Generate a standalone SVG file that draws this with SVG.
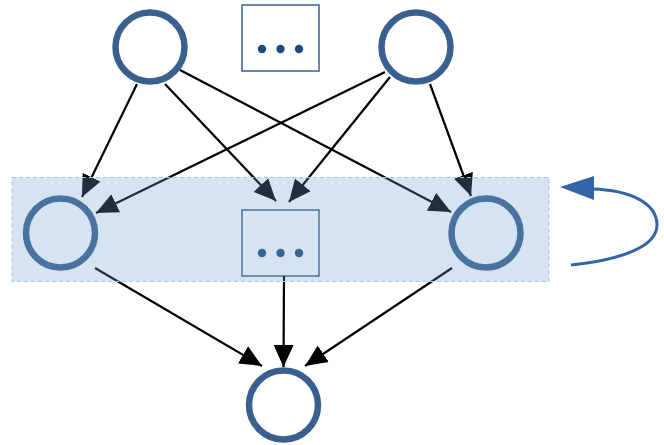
<svg xmlns="http://www.w3.org/2000/svg" width="664" height="445" viewBox="0 0 664 445">
<style>
.node{fill:#fff;stroke:#3a6090;stroke-width:6.5}
.box{fill:#fff;stroke:#3a6090;stroke-width:1.5}
.dot{fill:#1f4c80}
.edge{fill:none;stroke:#000;stroke-width:2.2}
.loop{fill:none;stroke:#3366a8;stroke-width:3}
</style>
<defs>
<marker id="ah" markerUnits="userSpaceOnUse" markerWidth="24" markerHeight="21" refX="22" refY="10" orient="auto" viewBox="0 0 24 20">
<path d="M0,0 L22,10 L0,20 Z" fill="#000"/>
</marker>
</defs>
<g id="top-left"><circle class="node" cx="150" cy="47" r="34.5"/></g>
<g id="top-dots"><rect class="box" x="242" y="5" width="77" height="66"/><circle class="dot" cx="262" cy="49" r="4.2"/><circle class="dot" cx="280.5" cy="49" r="4.2"/><circle class="dot" cx="299" cy="49" r="4.2"/></g>
<g id="top-right"><circle class="node" cx="416" cy="47" r="34.5"/></g>
<g id="mid-left"><circle class="node" cx="60.5" cy="233" r="34.5"/></g>
<g id="mid-dots"><rect class="box" x="242" y="210" width="77" height="66"/><circle class="dot" cx="262" cy="253" r="4.2"/><circle class="dot" cx="280.5" cy="253" r="4.2"/><circle class="dot" cx="299" cy="253" r="4.2"/></g>
<g id="mid-right"><circle class="node" cx="486" cy="233" r="34.5"/></g>
<g id="bottom"><circle class="node" cx="283.5" cy="405" r="34.5"/></g>
<g id="connectors">
<line class="edge" x1="137" y1="84" x2="82" y2="197" marker-end="url(#ah)"/>
<line class="edge" x1="165" y1="84" x2="276" y2="201" marker-end="url(#ah)"/>
<line class="edge" x1="180" y1="70" x2="451" y2="212" marker-end="url(#ah)"/>
<line class="edge" x1="385" y1="72" x2="96" y2="213" marker-end="url(#ah)"/>
<line class="edge" x1="390" y1="77" x2="289" y2="202" marker-end="url(#ah)"/>
<line class="edge" x1="430" y1="84" x2="471" y2="196" marker-end="url(#ah)"/>
<line class="edge" x1="95" y1="268" x2="262" y2="366" marker-end="url(#ah)"/>
<line class="edge" x1="284" y1="276" x2="283.5" y2="367" marker-end="url(#ah)"/>
<line class="edge" x1="452" y1="268" x2="305" y2="366" marker-end="url(#ah)"/>
<path class="loop" d="M571,265 C620,260 657,247 657,225 C657,203 630,190 592,189" />
<path d="M594,176 L560,187 L594,200 Z" fill="#3366a8"/>
</g>
<g id="layer-band"><rect x="12" y="177.5" width="537" height="104" fill="#729fcb" fill-opacity="0.29" stroke="#a9c3e0" stroke-width="1" stroke-dasharray="4,3"/></g>
</svg>
